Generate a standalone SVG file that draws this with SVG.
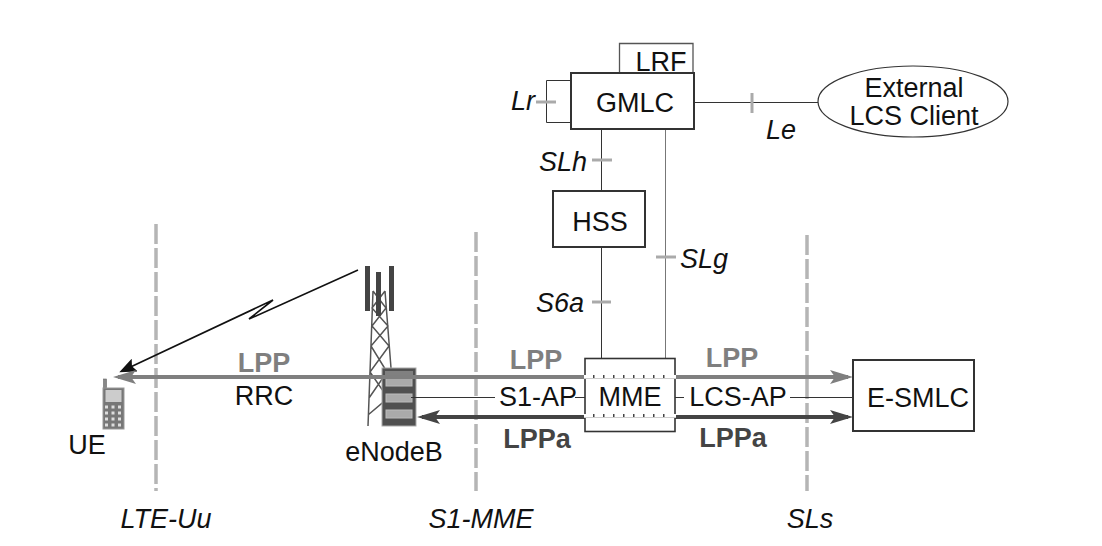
<svg xmlns="http://www.w3.org/2000/svg" width="1102" height="546" viewBox="0 0 1102 546">
<style>
text{font-family:"Liberation Sans",Arial,sans-serif;font-size:27px;fill:#111}
.i{font-style:italic}
.b{font-weight:bold}
.g{fill:#7f7f7f}
.d{fill:#444}
.m{text-anchor:middle}
.box{fill:#fff;stroke:#333;stroke-width:2}
.thin{fill:none;stroke:#333;stroke-width:1}
.tick{stroke:#aaa;stroke-width:3;fill:none}
.dash{stroke:#b5b5b5;stroke-width:3.500;fill:none;stroke-dasharray:20 4}
.tw{stroke:#555;stroke-width:1.500;fill:none}
</style>
<defs>
<marker id="ag" markerUnits="userSpaceOnUse" markerWidth="24" markerHeight="14" refX="18" refY="7" orient="auto-start-reverse"><path d="M0 0L23 7L0 14L5 7Z" fill="#7f7f7f"/></marker>
<marker id="ad" markerUnits="userSpaceOnUse" markerWidth="24" markerHeight="14" refX="18" refY="7" orient="auto-start-reverse"><path d="M0 0L23 7L0 14L5 7Z" fill="#444"/></marker>
<marker id="ak" markerUnits="userSpaceOnUse" markerWidth="18" markerHeight="14" refX="14" refY="7" orient="auto"><path d="M0 0L17 7L0 14L3 7Z" fill="#111"/></marker>
</defs>
<g id="boundaries">
<path class="dash" d="M156 224V491"/>
<path class="dash" d="M476 232V491"/>
<path class="dash" d="M807 235V491"/>
</g>
<g id="enodeb">
<path class="tw" d="M368 426L373 291M385 291L391 368M373 291L386 308L372 326L389 346L370 372L388 398L368 415M385 291L372 308L388 326L371 346L387 372L369 398"/>
<rect x="365" y="266" width="5" height="45" fill="#444"/>
<rect x="376" y="272" width="5" height="44" fill="#444"/>
<rect x="389" y="266" width="5" height="45" fill="#444"/>
<rect x="382" y="368" width="34" height="58" fill="#505050" stroke="#aaa"/>
<rect x="385" y="371" width="28" height="4" fill="#808080"/>
<rect x="386" y="378" width="26" height="8" fill="#aaa" stroke="#bbb"/>
<rect x="386" y="394" width="26" height="8" fill="#aaa" stroke="#bbb"/>
<rect x="386" y="410" width="26" height="8" fill="#aaa" stroke="#bbb"/>
</g>
<g id="connectors" fill="none">
<path d="M358 270L249 319L273 300L122 371" stroke="#111" stroke-width="1.600" marker-end="url(#ak)"/>
<path d="M118 377H848" stroke="#7f7f7f" stroke-width="4" marker-start="url(#ag)" marker-end="url(#ag)"/>
<path d="M422 417H848" stroke="#444" stroke-width="4" marker-start="url(#ad)" marker-end="url(#ad)"/>
<path class="thin" d="M411 397.500H495M575 397.500H585M675 397.500H684M790 397.500H853"/>
<path class="thin" d="M601.500 129V191M601.500 247V358"/>
<path d="M665.500 129V358" stroke="#777" stroke-width="1"/>
<path class="thin" d="M694 102.500H818"/>
<path class="thin" d="M571 80.500H546.500V122.500H571"/>
<path class="tick" d="M536 102H556"/>
<path class="tick" d="M592 160H612"/>
<path class="tick" d="M592 302H611"/>
<path class="tick" d="M656 257H676"/>
<path class="tick" d="M752 93V113"/>
</g>
<g id="lrf">
<path d="M619.500 73V43.500H693V73" fill="none" stroke="#555" stroke-width="1.300"/>
<text x="661" y="71" class="m">LRF</text>
</g>
<g id="gmlc">
<rect class="box" x="571" y="73" width="123" height="56"/>
<text x="635" y="112" class="m">GMLC</text>
</g>
<g id="external-lcs-client">
<ellipse cx="913" cy="101.500" rx="95" ry="35.500" fill="#fff" stroke="#333" stroke-width="1.200"/>
<text x="914" y="97" class="m">External</text>
<text x="914" y="125" class="m">LCS Client</text>
</g>
<g id="hss">
<rect class="box" x="553" y="191" width="92" height="56"/>
<text x="600" y="231" class="m">HSS</text>
</g>
<g id="mme">
<rect x="585" y="358.500" width="90" height="73" fill="#fff" stroke="#333" stroke-width="1.600"/>
<path d="M584 377H676M584 416H676" stroke="#fff" stroke-width="4"/>
<path d="M584 378.500H676M584 417.500H676" stroke="#ccc" stroke-width="1"/>
<path d="M593 376.500H672M593 415.500H672" stroke="#444" stroke-width="3" stroke-dasharray="1.500 8.500"/>
<text x="630" y="406" class="m">MME</text>
</g>
<g id="e-smlc">
<rect class="box" x="853" y="360" width="121" height="71"/>
<text x="918" y="407" class="m">E-SMLC</text>
</g>
<g id="ue">
<rect x="103.500" y="379" width="3" height="9" fill="#888" stroke="#666" stroke-width=".6"/>
<rect x="103" y="388" width="21" height="41" fill="#777" stroke="#999"/>
<rect x="105.500" y="390" width="16" height="12" fill="#ccc"/>
<path d="M105 407H122M105 413H122M105 419H122M105 425H122" stroke="#ddd" stroke-width="3" stroke-dasharray="3 3.500"/>
<text x="87" y="454" class="m">UE</text>
</g>
<g id="labels">
<text x="264" y="372" class="m b g">LPP</text>
<text x="264" y="405" class="m">RRC</text>
<text x="394" y="461" class="m">eNodeB</text>
<text x="536" y="369" class="m b g">LPP</text>
<text x="732" y="367" class="m b g">LPP</text>
<text x="538" y="406" class="m">S1-AP</text>
<text x="738" y="406" class="m">LCS-AP</text>
<text x="537" y="448" class="m b d">LPPa</text>
<text x="733" y="447" class="m b d">LPPa</text>
<text x="523" y="110" class="m i">Lr</text>
<text x="563" y="171" class="m i">SLh</text>
<text x="781" y="139" class="m i">Le</text>
<text x="704" y="268" class="m i">SLg</text>
<text x="560" y="312" class="m i">S6a</text>
<text x="166" y="528" class="m i">LTE-Uu</text>
<text x="481" y="528" class="m i">S1-MME</text>
<text x="810" y="528" class="m i">SLs</text>
</g>
</svg>
